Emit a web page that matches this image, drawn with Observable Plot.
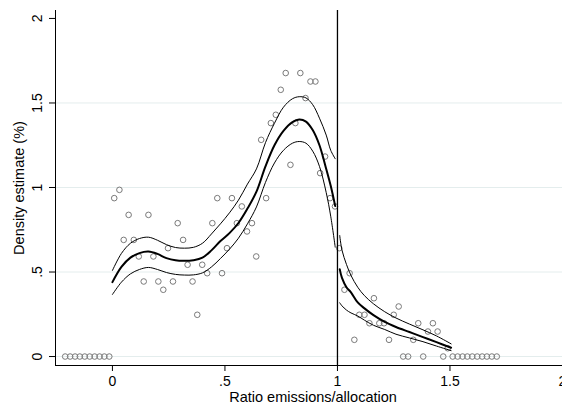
<!DOCTYPE html>
<html>
<head>
<meta charset="utf-8">
<script src="https://cdn.jsdelivr.net/npm/d3@7"></script>
<script src="https://cdn.jsdelivr.net/npm/@observablehq/plot@0.6"></script>
<style>
  html, body { margin: 0; padding: 0; background: #fff; }
  #chart { width: 562px; height: 405px; overflow: hidden; }
</style>
</head>
<body>
<div id="chart"></div>
<script>
// Scatter (binned share, %)
const pointX = [-0.210,-0.188,-0.166,-0.145,-0.123,-0.101,-0.079,-0.057,-0.036,-0.014,
  0.008,0.031,0.050,0.072,0.095,0.117,0.139,0.160,0.182,0.204,
  0.226,0.247,0.269,0.290,0.314,0.334,0.356,0.377,0.399,0.421,
  0.444,0.466,0.487,0.509,0.531,0.553,0.575,0.598,0.620,0.639,
  0.661,0.683,0.704,0.726,0.748,0.770,0.791,0.813,0.835,0.858,
  0.880,0.902,0.923,0.945,0.967,0.989,1.008,1.031,1.054,1.075,
  1.097,1.120,1.142,1.162,1.186,1.207,1.229,1.250,1.272,1.292,
  1.314,1.337,1.359,1.381,1.402,1.424,1.445,1.470,1.490,
  1.512,1.534,1.556,1.577,1.599,1.621,1.643,1.664,1.686,1.708];
const pointY = [0,0,0,0,0,0,0,0,0,0,
  0.937,0.986,0.690,0.838,0.690,0.592,0.444,0.838,0.592,0.444,
  0.395,0.641,0.444,0.789,0.690,0.543,0.444,0.247,0.543,0.493,
  0.789,0.937,0.493,0.641,0.937,0.789,0.888,0.740,0.789,0.592,
  1.282,0.937,1.381,1.430,1.578,1.677,1.134,1.381,1.677,1.529,
  1.627,1.627,1.085,1.183,0.937,0.888,0.641,0.395,0.493,0.099,
  0.247,0.247,0.197,0.345,0.197,0.197,0.099,0.247,0.296,0,
  0,0.099,0.197,0,0.148,0.197,0.148,0,0.049,
  0,0,0,0,0,0,0,0,0,0];

// Density estimate below threshold (ratio < 1)
const leftX = [0,0.04,0.08,0.12,0.16,0.20,0.24,0.28,0.32,0.36,0.40,0.44,0.48,0.52,0.56,0.60,0.64,0.68,0.72,0.76,0.80,0.83,0.86,0.89,0.92,0.95,0.97,0.99];
const leftFit = [0.44,0.53,0.585,0.612,0.621,0.607,0.582,0.569,0.566,0.570,0.585,0.628,0.683,0.730,0.790,0.875,0.975,1.125,1.250,1.335,1.387,1.402,1.390,1.340,1.250,1.110,1.010,0.890];
const leftHi = [0.509,0.61,0.67,0.698,0.706,0.688,0.662,0.645,0.641,0.646,0.67,0.725,0.785,0.85,0.925,1.02,1.11,1.265,1.38,1.475,1.525,1.537,1.53,1.49,1.41,1.31,1.22,1.17];
const leftLo = [0.367,0.44,0.489,0.515,0.527,0.515,0.497,0.486,0.482,0.483,0.495,0.53,0.58,0.635,0.70,0.785,0.885,1.03,1.145,1.22,1.262,1.272,1.262,1.215,1.125,0.97,0.83,0.647];

// Density estimate above threshold (ratio > 1)
const rightX = [1.01,1.02,1.04,1.06,1.09,1.12,1.16,1.21,1.26,1.32,1.38,1.44,1.505];
const rightFit = [0.517,0.465,0.41,0.38,0.32,0.285,0.245,0.205,0.175,0.145,0.115,0.085,0.052];
const rightHi = [0.716,0.63,0.545,0.48,0.41,0.36,0.312,0.265,0.228,0.192,0.158,0.122,0.075];
const rightLo = [0.318,0.3,0.275,0.258,0.24,0.215,0.185,0.16,0.132,0.11,0.088,0.062,0.035];

const xTicks = [0, 0.5, 1, 1.5, 2];
const yTicks = [0, 0.5, 1, 1.5, 2];
const gridY = [0, 0.5, 1, 1.5];
const threshold = [1];
const xTitle = "Ratio emissions/allocation";
const yTitle = "Density estimate (%)";

const fmt = d => d === 0 ? "0" : (d < 1 ? String(d).replace(/^0/, "") : String(d));

const pts = pointX.map((x, i) => ({x, y: pointY[i]}));
const mk = (xs, ys) => xs.map((x, i) => ({x, y: ys[i]}));

const font = "'Liberation Sans', Arial, Helvetica, sans-serif";

const chart = Plot.plot({
  width: 562,
  height: 405,
  marginLeft: 55,
  marginRight: 0,
  marginTop: 10,
  marginBottom: 40,
  style: {fontFamily: font, fontSize: "14px", background: "#fff", color: "#000"},
  x: {domain: [-0.253, 2]},
  y: {domain: [-0.053, 2.047]},
  marks: [
    Plot.ruleY(gridY, {stroke: "#e4eded", strokeWidth: 1}),
    Plot.dot(pts, {x: "x", y: "y", r: 2.8, stroke: "#7a7a7a", strokeWidth: 1, fill: "none"}),
    Plot.line(mk(leftX, leftHi), {x: "x", y: "y", stroke: "#000", strokeWidth: 1, curve: "catmull-rom"}),
    Plot.line(mk(leftX, leftLo), {x: "x", y: "y", stroke: "#000", strokeWidth: 1, curve: "catmull-rom"}),
    Plot.line(mk(leftX, leftFit), {x: "x", y: "y", stroke: "#000", strokeWidth: 2, curve: "catmull-rom"}),
    Plot.line(mk(rightX, rightHi), {x: "x", y: "y", stroke: "#000", strokeWidth: 1, curve: "catmull-rom"}),
    Plot.line(mk(rightX, rightLo), {x: "x", y: "y", stroke: "#000", strokeWidth: 1, curve: "catmull-rom"}),
    Plot.line(mk(rightX, rightFit), {x: "x", y: "y", stroke: "#000", strokeWidth: 2, curve: "catmull-rom"}),
    Plot.ruleX(threshold, {stroke: "#000", strokeWidth: 1.3}),
    Plot.frame({anchor: "left", stroke: "#000"}),
    Plot.frame({anchor: "bottom", stroke: "#000"}),
    Plot.axisX({ticks: xTicks, tickSize: 6, tickPadding: 5, tickFormat: fmt, label: null, fontSize: 14}),
    Plot.axisY({ticks: yTicks, tickSize: 6, tickFormat: () => "", label: null}),
    Plot.text(yTicks, {y: d => d, text: fmt, frameAnchor: "left", dx: -18, rotate: -90, textAnchor: "middle", lineAnchor: "middle", fontSize: 14}),
    Plot.text([yTitle], {text: d => d, frameAnchor: "left", dx: -36, rotate: -90, textAnchor: "middle", lineAnchor: "middle", fontSize: 14.5}),
    Plot.text([xTitle], {text: d => d, frameAnchor: "bottom", dx: 4, dy: 32, textAnchor: "middle", lineAnchor: "middle", fontSize: 14.5})
  ]
});
document.getElementById("chart").appendChild(chart);
</script>
</body>
</html>
